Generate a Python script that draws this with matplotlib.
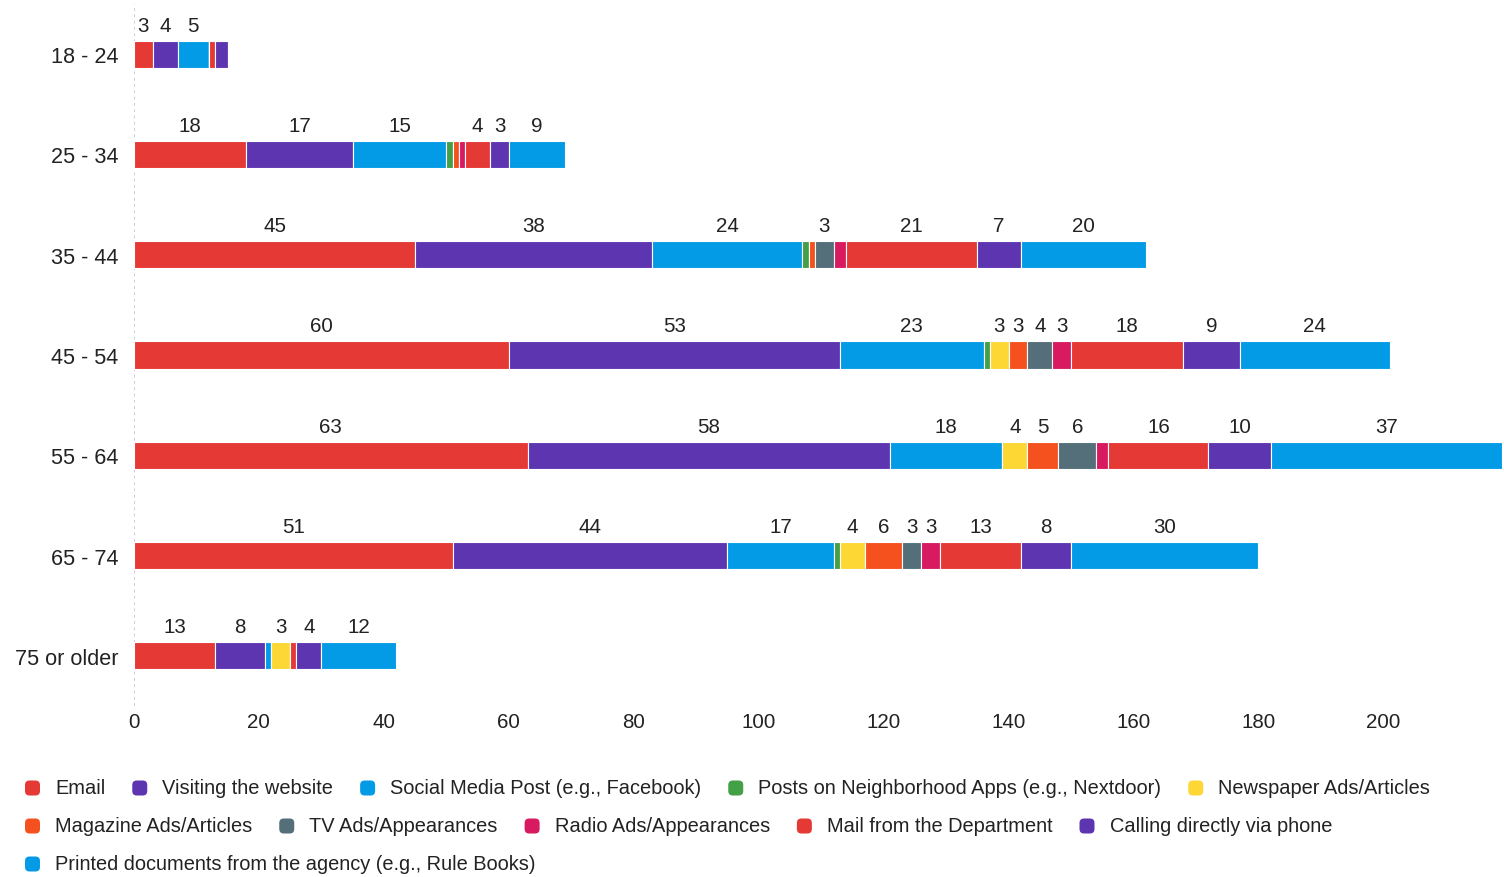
import matplotlib
matplotlib.use("Agg")
import matplotlib.pyplot as plt
from matplotlib.patches import FancyBboxPatch
import numpy as np

plt.rcParams['font.family'] = ['Liberation Sans', 'DejaVu Sans']

age_groups = ["18 - 24", "25 - 34", "35 - 44", "45 - 54", "55 - 64", "65 - 74", "75 or older"]

series_names = [
    "Email", "Visiting the website", "Social Media Post (e.g., Facebook)",
    "Posts on Neighborhood Apps (e.g., Nextdoor)", "Newspaper Ads/Articles",
    "Magazine Ads/Articles", "TV Ads/Appearances", "Radio Ads/Appearances",
    "Mail from the Department", "Calling directly via phone",
    "Printed documents from the agency (e.g., Rule Books)",
]
series_colors = ["#E53935", "#5E35B1", "#039BE5", "#43A047", "#FDD835",
                 "#F4511E", "#546E7A", "#D81B60", "#E53935", "#5E35B1", "#039BE5"]

email = [3, 18, 45, 60, 63, 51, 13]
website = [4, 17, 38, 53, 58, 44, 8]
social = [5, 15, 24, 23, 18, 17, 1]
neighborhood = [0, 1, 1, 1, 0, 1, 0]
newspaper = [0, 0, 0, 3, 4, 4, 3]
magazine = [0, 1, 1, 3, 5, 6, 0]
tv = [0, 0, 3, 4, 6, 3, 0]
radio = [0, 1, 2, 3, 2, 3, 0]
mail = [1, 4, 21, 18, 16, 13, 1]
calling = [2, 3, 7, 9, 10, 8, 4]
printed = [0, 9, 20, 24, 37, 30, 12]

series_values = [email, website, social, neighborhood, newspaper, magazine,
                 tv, radio, mail, calling, printed]

xticks = [0, 20, 40, 60, 80, 100, 120, 140, 160, 180, 200]

W, H = 1504, 878
fig = plt.figure(figsize=(W / 100, H / 100), dpi=100)
ax = fig.add_axes([134 / W, 1 - 707 / H, (1502 - 134) / W, 702 / H])

text_color = "#222222"
fs = 14.8
y = np.arange(len(age_groups))
left = np.zeros(len(age_groups))
bar_h = 0.27
for name, vals, col in zip(series_names, series_values, series_colors):
    vals = np.array(vals, dtype=float)
    ax.barh(y, vals, left=left, height=bar_h, color=col, edgecolor="white",
            linewidth=0.8, zorder=3)
    for i, v in enumerate(vals):
        if v >= 3:
            ax.text(left[i] + v / 2, y[i] - 0.29, f"{int(v)}", ha="center", va="center",
                    fontsize=fs, color=text_color)
    left += vals

ax.set_xlim(0, 219)
ax.set_ylim(6.5, -0.5)
ax.set_yticks(y)
ax.set_yticklabels(age_groups, fontsize=15.6, color=text_color)
ax.set_xticks(xticks)
ax.set_xticklabels([str(t) for t in xticks], fontsize=fs, color=text_color)
ax.tick_params(axis="both", length=0)
ax.tick_params(axis="y", pad=11)
ax.tick_params(axis="x", pad=4)
for s in ax.spines.values():
    s.set_visible(False)
ax.axvline(0, color="#c8c8c8", linestyle=(0, (1.5, 2)), linewidth=1.3, zorder=1)

# Legend (flow layout)
renderer = fig.canvas.get_renderer()
rows_items = [[0, 1, 2, 3, 4], [5, 6, 7, 8, 9], [10]]
row_y = [789, 827, 865]
for ri, items in enumerate(rows_items):
    x = 25
    yc = row_y[ri]
    for idx in items:
        msz = 15
        patch = FancyBboxPatch((x / W, 1 - (yc + msz / 2) / H), msz / W, msz / H,
                               boxstyle="round,pad=0,rounding_size=0.003",
                               transform=fig.transFigure, facecolor=series_colors[idx],
                               edgecolor="none", mutation_aspect=W / H)
        fig.add_artist(patch)
        t = fig.text((x + 30) / W, 1 - yc / H, series_names[idx], fontsize=14.4,
                     color=text_color, ha="left", va="center")
        bb = t.get_window_extent(renderer=renderer)
        x = x + 30 + bb.width + 27

fig.savefig("out.png", dpi=100)
